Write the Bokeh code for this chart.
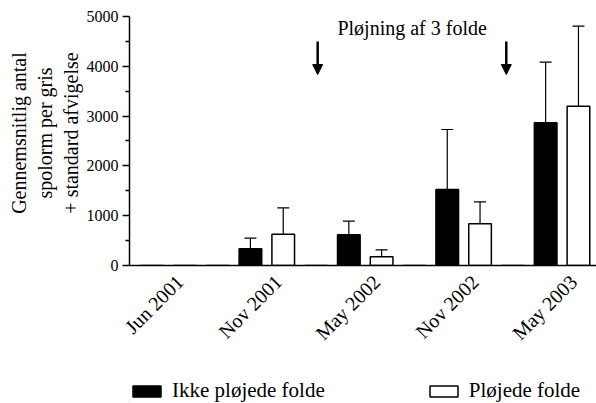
import math
from bokeh.plotting import figure
from bokeh.layouts import column
from bokeh.models import (ColumnDataSource, FixedTicker, Range1d, Whisker, TeeHead,
                          Arrow, NormalHead, Label, Legend, LegendItem)
from bokeh.embed import file_html
from bokeh.resources import INLINE

# ---- data ----
dates = ["Jun 2001", "Nov 2001", "May 2002", "Nov 2002", "May 2003"]
ikke_mean = [0, 335, 616, 1526, 2865]
ikke_sd = [0, 213, 274, 1205, 1218]
plojede_mean = [0, 628, 175, 837, 3199]
plojede_sd = [0, 530, 140, 442, 1606]
spacer_values = [0, 0, 0, 0]
plow_x = [5.05, 10.8]          # ploughing events (slot units)
plow_arrow = [4500, 3835]      # arrow start / end value
y_ticks = [0, 1000, 2000, 3000, 4000, 5000]
y_minor = [500, 1500, 2500, 3500, 4500]
series_names = ["Ikke pløjede folde", "Pløjede folde"]

FONT = "Liberation Serif"
n = len(dates)
black_x = [3 * i for i in range(n)]
white_x = [3 * i + 1 for i in range(n)]
spacer_x = [3 * i + 2 for i in range(len(spacer_values))]
tick_pos = [round(3 * i + 0.85, 2) for i in range(n)]

W, H_MAIN, H_LEG = 596, 367, 36

p = figure(width=W, height=H_MAIN, output_backend="svg", toolbar_location=None,
           title=None,
           x_range=Range1d(-0.686, 13.55), y_range=Range1d(0, 5321),
           min_border_left=129, min_border_right=0, min_border_top=0,
           min_border_bottom=H_MAIN - 265)
p.background_fill_color = "white"
p.border_fill_color = "white"
p.outline_line_color = None
p.xgrid.visible = False
p.ygrid.visible = False

BW = 0.69
src_b = ColumnDataSource(dict(x=black_x, top=ikke_mean,
                              upper=[m + s for m, s in zip(ikke_mean, ikke_sd)]))
src_w = ColumnDataSource(dict(x=white_x, top=plojede_mean,
                              upper=[m + s for m, s in zip(plojede_mean, plojede_sd)]))

black_style = dict(fill_color="black", line_color="black", line_width=1.5)
white_style = dict(fill_color="white", line_color="black", line_width=1.5)

p.vbar(x="x", top="top", width=BW, source=src_b, **black_style)
p.vbar(x="x", top="top", width=BW, source=src_w, **white_style)
p.vbar(x=spacer_x, top=spacer_values, width=BW, fill_color=None,
       line_color="black", line_width=1.5)

for src, sds in ((src_b, ikke_sd), (src_w, plojede_sd)):
    d = src.data
    keep = [i for i, s in enumerate(sds) if s > 0]
    es = ColumnDataSource(dict(x=[d["x"][i] for i in keep],
                               top=[d["top"][i] for i in keep],
                               upper=[d["upper"][i] for i in keep]))
    p.add_layout(Whisker(base="x", upper="upper", lower="top", source=es,
                         upper_head=TeeHead(size=12, line_width=1.2, line_color="black"),
                         lower_head=None, line_width=1.2, line_color="black"))

for x in plow_x:
    p.add_layout(Arrow(end=NormalHead(size=10, fill_color="black", line_color="black"),
                       x_start=x, y_start=plow_arrow[0], x_end=x, y_end=plow_arrow[1],
                       line_width=2.5, line_color="black"))

p.add_layout(Label(x=7.93, y=4769, text="Pløjning af 3 folde", text_align="center",
                   text_baseline="alphabetic", text_font=FONT, text_font_size="20px",
                   text_color="black"))

# x axis
xa = p.xaxis[0]
xa.ticker = FixedTicker(ticks=tick_pos)
xa.major_label_overrides = {t: d for t, d in zip(tick_pos, dates)}
xa.major_label_orientation = math.pi / 4
xa.major_tick_out = 0
xa.major_tick_in = 0
xa.minor_tick_out = 0
xa.minor_tick_in = 0
xa.major_label_standoff = 13
xa.axis_line_width = 1.5
xa.axis_line_color = "black"
xa.major_label_text_font = FONT
xa.major_label_text_font_size = "20px"
xa.major_label_text_color = "black"

# y axis
ya = p.yaxis[0]
ya.ticker = FixedTicker(ticks=y_ticks, minor_ticks=y_minor)
ya.bounds = (0, 5000)
ya.major_tick_out = 7
ya.major_tick_in = 0
ya.minor_tick_out = 4
ya.minor_tick_in = 0
ya.major_tick_line_width = 1.5
ya.minor_tick_line_width = 1.5
ya.axis_line_width = 1.5
ya.axis_line_color = "black"
ya.major_label_standoff = 4
ya.major_label_text_font = FONT
ya.major_label_text_font_size = "16px"
ya.major_label_text_color = "black"
ya.axis_label = "Gennemsnitlig antal\nspolorm per gris\n+ standard afvigelse"
ya.axis_label_text_font = FONT
ya.axis_label_text_font_size = "20px"
ya.axis_label_text_font_style = "normal"
ya.axis_label_text_color = "black"
ya.axis_label_text_line_height = 1.17
ya.axis_label_standoff = 2

# ---- legend strip (frame aligned with the main plot's frame) ----
leg = figure(width=W, height=H_LEG, output_backend="svg", toolbar_location=None,
             title=None, x_axis_location=None, y_axis_location=None,
             x_range=Range1d(0, 1), y_range=Range1d(0, 1),
             min_border=0)
leg.outline_line_color = None
leg.xgrid.visible = False
leg.ygrid.visible = False
lb = leg.vbar(x=[-10], top=[0], width=0.1, **black_style)
lw = leg.vbar(x=[-10], top=[0], width=0.1, **white_style)
legend = Legend(items=[LegendItem(label=series_names[0], renderers=[lb]),
                       LegendItem(label=series_names[1], renderers=[lw])],
                orientation="horizontal", location=(0, 0), spacing=101,
                glyph_width=35, glyph_height=14, label_standoff=8,
                padding=0, margin=0, label_text_font=FONT, label_text_font_size="21px",
                label_text_color="black",
                background_fill_alpha=0, border_line_alpha=0)
leg.add_layout(legend)

layout = column(p, leg, spacing=0)
open("out.html", "w").write(file_html(layout, INLINE))
